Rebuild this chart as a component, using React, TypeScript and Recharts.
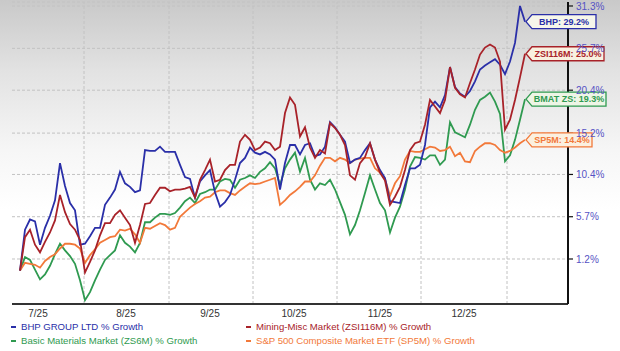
import { LineChart, Line, XAxis, YAxis, CartesianGrid, ReferenceLine, ReferenceDot } from 'recharts'

// % growth since start, one value per trading session
const bhpGrowth = [
  0.0, 4.3, 5.4, 5.2, 2.7, 4.5, 5.8, 7.5, 11.7, 9.1,
  7.2, 6.4, 2.7, 2.8, 3.6, 4.5, 4.5, 7.0, 7.8, 8.7,
  10.7, 9.4, 9.0, 8.4, 8.6, 13.2, 13.1, 13.1, 13.6, 13.0,
  13.0, 13.0, 11.5, 10.1, 9.9, 7.8, 9.6, 10.3, 10.9, 8.4,
  6.8, 7.3, 8.1, 9.8, 11.7, 12.3, 13.5, 12.9, 12.7, 13.0,
  12.7, 12.1, 8.7, 11.7, 13.8, 13.8, 12.7, 13.8, 14.0, 12.5,
  12.7, 13.6, 16.5, 15.9, 15.0, 14.2, 11.7, 12.1, 12.3, 13.2,
  14.0, 12.1, 10.9, 10.0, 7.4, 7.3, 7.2, 9.2, 11.1, 11.1,
  11.5, 13.8, 18.3, 19.0, 18.3, 19.8, 23.3, 20.8, 20.0, 19.6,
  20.3, 21.5, 23.0, 23.5, 23.9, 24.3, 23.6, 22.4, 24.0, 26.4,
  31.3, 29.2,
]
const miningGrowth = [
  0.0, 3.5, 4.3, 2.7, 1.9, 3.0, 4.0, 5.3, 8.1, 6.2,
  4.9, 4.3, 3.2, -0.2, 0.9, 2.1, 3.7, 5.0, 5.0, 5.9,
  6.4, 5.6, 4.8, 2.9, 4.8, 7.1, 7.2, 8.1, 8.9, 8.9,
  8.5, 8.7, 8.7, 8.8, 9.0, 7.8, 9.8, 10.9, 12.1, 9.6,
  9.8, 10.9, 11.5, 11.5, 14.2, 15.0, 14.4, 13.2, 13.5, 14.2,
  14.0, 13.2, 13.6, 17.6, 19.5, 18.6, 14.8, 15.9, 13.5, 12.3,
  13.2, 12.8, 16.4, 15.8, 15.0, 13.8, 10.3, 9.8, 11.7, 12.4,
  14.0, 12.1, 10.6, 9.7, 7.0, 7.9, 9.0, 10.9, 13.2, 14.0,
  14.2, 16.2, 19.2, 18.4, 17.6, 19.2, 23.3, 20.7, 19.9, 19.5,
  21.3, 23.0, 24.9, 25.8, 26.2, 25.8, 24.0, 15.6, 16.8, 19.2,
  22.0, 25.0,
]
const basicMatGrowth = [
  0.0, 1.4, 1.1, 0.1, -0.9, -0.4, 0.5, 1.7, 2.8, 2.1,
  1.5, 0.7, -1.0, -3.0, -2.2, -1.0, 0.1, 1.1, 1.6, 2.1,
  3.7, 2.9, 2.5, 1.9, 2.9, 5.1, 5.1, 5.6, 6.0, 6.0,
  5.9, 6.1, 6.7, 7.4, 7.8, 7.2, 8.2, 8.4, 8.7, 8.7,
  9.6, 9.9, 9.8, 8.9, 9.8, 10.0, 10.3, 10.0, 10.7, 11.1,
  11.8, 11.1, 9.2, 11.1, 12.1, 12.9, 10.7, 12.3, 9.8, 8.7,
  9.4, 9.2, 9.8, 8.7, 7.3, 5.9, 3.8, 4.8, 6.4, 8.3,
  10.3, 8.7, 7.2, 6.4, 4.0, 5.6, 6.8, 8.7, 11.3, 12.4,
  12.3, 12.1, 12.6, 12.6, 11.5, 12.1, 16.5, 15.3, 15.0, 14.7,
  16.2, 18.0, 19.2, 19.6, 20.1, 19.0, 17.5, 11.9, 12.6, 14.4,
  16.8, 19.3,
]
const sp500Growth = [
  0.0, 0.8, 0.7, 0.6, 0.3, 1.0, 1.4, 1.7, 2.3, 2.8,
  2.8, 2.7, 2.3, 0.8, 1.6, 2.2, 2.9, 3.2, 3.5, 3.6,
  4.3, 4.2, 4.4, 3.8, 2.9, 4.5, 4.4, 4.7, 5.0, 4.8,
  4.3, 4.5, 5.7, 6.2, 6.7, 7.1, 7.4, 7.8, 7.9, 8.4,
  8.6, 8.6, 8.3, 8.1, 8.6, 9.0, 9.4, 9.3, 9.4, 9.6,
  9.8, 10.0, 7.0, 7.5, 8.1, 8.5, 9.0, 9.6, 9.6, 10.3,
  11.4, 12.3, 12.3, 11.9, 12.3, 12.1, 11.7, 12.1, 12.2, 12.3,
  12.3, 11.1, 10.6, 9.9, 8.0, 9.4, 10.2, 12.1, 13.1, 13.0,
  13.0, 13.3, 13.6, 13.5, 13.1, 13.2, 13.6, 12.5, 12.9, 11.9,
  11.8, 13.1, 13.6, 14.0, 14.0, 13.8, 13.2, 12.9, 13.1, 13.5,
  14.0, 14.4,
]

// x axis: session positions of month mid-points (labels) and month starts (grid)
const monthLabels = ['7/25', '8/25', '9/25', '10/25', '11/25', '12/25']
const monthMidSessions = [3.6, 21.2, 38, 54.8, 72, 88.8]
const monthStartSessions = [12.8, 29.8, 46.6, 63.4, 80.2, 97.4]
const yTickGrowth = [1.2, 5.7, 10.4, 15.2, 20.4, 25.7, 31.3]

const W = 620
const H = 351
const FONT = '"Liberation Sans", Arial, sans-serif'

const SERIES = [
  { key: 'basic', legend: 'Basic Materials Market (ZS6M) % Growth', tag: 'BMAT ZS', color: '#2f9a50', tint: '#eef5e6', tagW: 74, values: basicMatGrowth },
  { key: 'sp500', legend: 'S&P 500 Composite Market ETF (SP5M) % Growth', tag: 'SP5M', color: '#f2793a', tint: '#fbf0e0', tagW: 60, values: sp500Growth },
  { key: 'bhp', legend: 'BHP GROUP LTD % Growth', tag: 'BHP', color: '#2a2fa8', tint: '#f6f6ea', tagW: 64, values: bhpGrowth },
  { key: 'mining', legend: 'Mining-Misc Market (ZSI116M) % Growth', tag: 'ZSI116M', color: '#a82229', tint: '#f8f1e0', tagW: 72, values: miningGrowth },
]

const data = bhpGrowth.map((_, i) => {
  const row: Record<string, number> = { session: i }
  SERIES.forEach((s) => {
    row[s.key] = 100 + s.values[i]
  })
  return row
})
const last = data.length - 1

function Tag({ cx, cy, label, color, tint, w }: any) {
  if (cx == null || cy == null) return null
  const x0 = cx + 1
  const b = x0 + 6
  const h = 7
  return (
    <g>
      <path
        d={`M${x0},${cy} L${b},${cy - h} L${b + w},${cy - h} L${b + w},${cy + h} L${b},${cy + h} Z`}
        fill={tint}
        stroke={color}
        strokeWidth={1.3}
      />
      <text x={b + w / 2} y={cy + 3.3} textAnchor="middle" fontSize={9} fontWeight="bold" fill={color} fontFamily={FONT}>
        {label}
      </text>
    </g>
  )
}

const legendRows = [
  [SERIES[2], SERIES[3]],
  [SERIES[0], SERIES[1]],
]

export default function App() {
  return (
    <div
      style={{
        position: 'absolute',
        left: 0,
        top: 0,
        width: W,
        height: H,
        fontFamily: FONT,
        background: 'linear-gradient(#c9c9c9 0px, #e2e2e2 70px, #f6f6f6 150px, #ffffff 210px)',
        overflow: 'hidden',
      }}
    >
      <LineChart width={W} height={H} data={data} margin={{ top: 2, right: 0, bottom: 0, left: 12 }}>
        <CartesianGrid vertical={false} stroke="#c2c2c2" strokeDasharray="3 2" />
        {monthStartSessions.map((m) => (
          <ReferenceLine key={m} x={m} stroke="#c2c2c2" strokeDasharray="3 2" />
        ))}
        <XAxis
          dataKey="session"
          type="number"
          domain={[-1.6, 109.6]}
          ticks={monthMidSessions}
          tickFormatter={(v: number) => monthLabels[monthMidSessions.indexOf(v)] ?? ''}
          interval={0}
          height={47}
          tickLine={false}
          tickSize={0}
          tickMargin={6}
          axisLine={{ stroke: '#333', strokeWidth: 2 }}
          tick={{ fontSize: 10, fill: '#333' }}
          allowDataOverflow
        />
        <YAxis
          orientation="right"
          type="number"
          scale="log"
          domain={[96.62, 131.84]}
          ticks={yTickGrowth.map((g) => 100 + g)}
          tickFormatter={(v: number) => `${(v - 100).toFixed(1)}%`}
          interval={0}
          width={52}
          tickSize={5}
          tickMargin={3}
          axisLine={{ stroke: '#111', strokeWidth: 2 }}
          tickLine={{ stroke: '#111', strokeWidth: 1.2 }}
          tick={{ fontSize: 10, fill: '#5552c4' }}
          allowDataOverflow
        />
        {SERIES.map((s) => (
          <Line
            key={s.key}
            dataKey={s.key}
            stroke={s.color}
            strokeWidth={1.8}
            dot={false}
            type="linear"
            isAnimationActive={false}
          />
        ))}
        {SERIES.map((s) => (
          <ReferenceDot
            key={`tag-${s.key}`}
            x={last}
            y={100 + s.values[last]}
            r={0}
            ifOverflow="visible"
            shape={(p: any) => <Tag cx={p.cx} cy={p.cy} label={`${s.tag}: ${s.values[last].toFixed(1)}%`} color={s.color} tint={s.tint} w={s.tagW} />}
          />
        ))}
      </LineChart>
      {legendRows.map((row, r) =>
        row.map((s, c) => (
          <div
            key={s.key}
            style={{
              position: 'absolute',
              left: c === 0 ? 11 : 246,
              top: 320 + r * 14,
              fontSize: 9.6,
              lineHeight: '13px',
              color: s.color,
              whiteSpace: 'nowrap',
              display: 'flex',
              alignItems: 'center',
            }}
          >
            <span style={{ display: 'inline-block', width: 5, height: 2, background: s.color, marginRight: 5 }} />
            {s.legend}
          </div>
        ))
      )}
    </div>
  )
}
